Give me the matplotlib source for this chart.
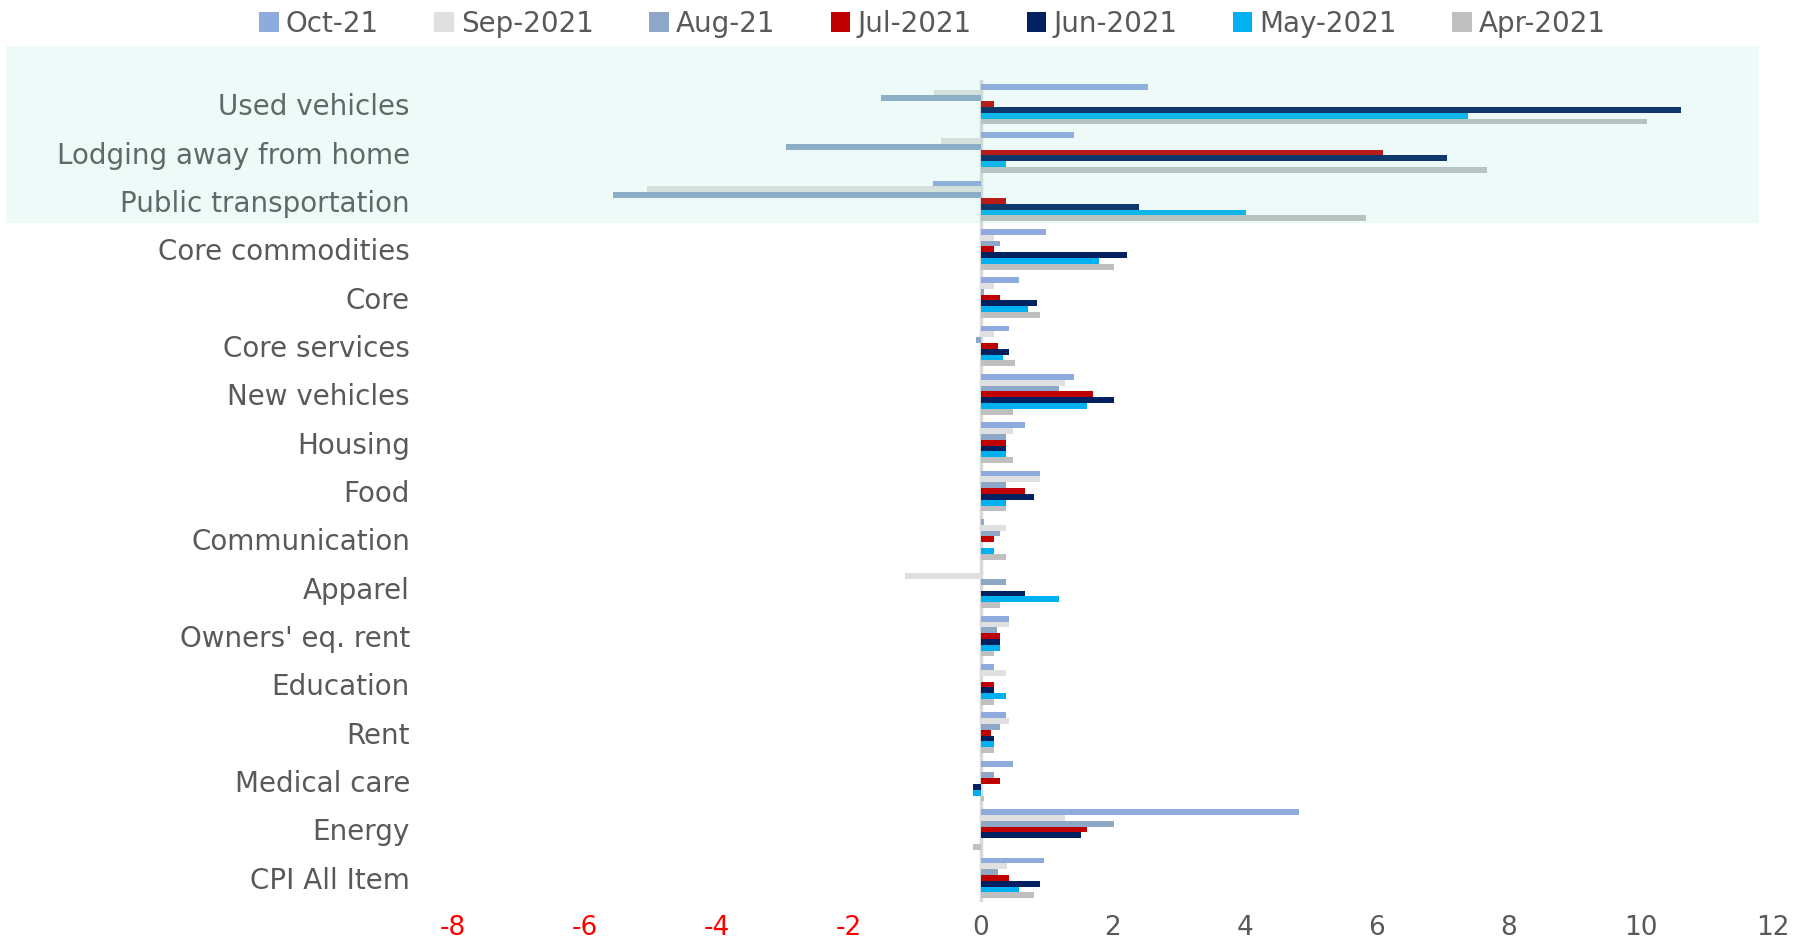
import matplotlib.pyplot as plt
import numpy as np
from matplotlib.patches import Patch, Rectangle

# CPI components, monthly % change
categories = ['Used vehicles', 'Lodging away from home', 'Public transportation',
              'Core commodities', 'Core', 'Core services', 'New vehicles', 'Housing',
              'Food', 'Communication', 'Apparel', "Owners' eq. rent", 'Education',
              'Rent', 'Medical care', 'Energy', 'CPI All Item']

oct21 = [2.53, 1.41, -0.72, 0.99, 0.57, 0.43, 1.41, 0.67, 0.90, 0.05, 0.00,
         0.43, 0.20, 0.38, 0.48, 4.82, 0.95]
sep21 = [-0.71, -0.61, -5.06, 0.20, 0.20, 0.20, 1.27, 0.48, 0.90, 0.38, -1.15,
         0.43, 0.38, 0.43, 0.00, 1.27, 0.39]
aug21 = [-1.51, -2.96, -5.57, 0.29, 0.05, -0.07, 1.18, 0.38, 0.38, 0.29, 0.38,
         0.24, 0.00, 0.29, 0.20, 2.02, 0.25]
jul21 = [0.20, 6.09, 0.38, 0.20, 0.29, 0.25, 1.69, 0.38, 0.67, 0.20, 0.00,
         0.29, 0.20, 0.15, 0.29, 1.60, 0.43]
jun21 = [10.60, 7.06, 2.39, 2.21, 0.85, 0.43, 2.02, 0.38, 0.81, 0.00, 0.66,
         0.29, 0.20, 0.20, -0.12, 1.51, 0.90]
may21 = [7.38, 0.38, 4.02, 1.79, 0.71, 0.34, 1.60, 0.38, 0.38, 0.20, 1.18,
         0.29, 0.38, 0.20, -0.12, 0.00, 0.57]
apr21 = [10.09, 7.67, 5.84, 2.02, 0.90, 0.52, 0.48, 0.48, 0.38, 0.38, 0.29,
         0.20, 0.20, 0.20, 0.05, -0.12, 0.81]

series = [oct21, sep21, aug21, jul21, jun21, may21, apr21]
labels = ['Oct-21', 'Sep-2021', 'Aug-21', 'Jul-2021', 'Jun-2021', 'May-2021', 'Apr-2021']
colors = ['#8FAADC', '#E0E0E0', '#8FA7C7', '#C00000', '#002060', '#00B0F0', '#BFBFBF']

xticks = list(range(-8, 13, 2))

W, H = 1797, 947
fig = plt.figure(figsize=(W / 100, H / 100), dpi=100)
ax = fig.add_axes([453 / W, 1 - 902 / H, (1773 - 453) / W, (902 - 80) / H])

y = np.arange(len(categories))
h = 0.12
for k, (vals, lab, col) in enumerate(zip(series, labels, colors)):
    ax.barh(y + (k - 3) * h, vals, height=h, color=col, label=lab, zorder=2)

ax.axvline(0, color='#D9D9D9', lw=2.5, zorder=1)

ax.set_xlim(-8, 12)
ax.set_ylim(len(categories) - 0.5, -0.5)
ax.set_yticks(y)
ax.set_yticklabels(categories, fontsize=20, color='#595959')
ax.set_xticks(xticks)
ax.set_xticklabels([str(t) for t in xticks], fontsize=19)
for t, lbl in zip(xticks, ax.get_xticklabels()):
    lbl.set_color('#FF0000' if t < 0 else '#595959')
ax.tick_params(axis='y', length=0, pad=31)
ax.tick_params(axis='x', length=0, pad=9)
for s in ax.spines.values():
    s.set_visible(False)

# highlighted block over the top three categories
rect = Rectangle((6 / W, 1 - 223 / H), (1759 - 6) / W, (223 - 46) / H,
                 transform=fig.transFigure, facecolor='#7FE0C8', alpha=0.13,
                 edgecolor='none', zorder=10)
fig.add_artist(rect)

handles = [Patch(facecolor=c, edgecolor='none') for c in colors]
leg = fig.legend(handles, labels, loc='center', bbox_to_anchor=(0.519, 0.975),
                 ncol=7, frameon=False, fontsize=20, handlelength=0.7,
                 handleheight=0.7, handletextpad=0.25, columnspacing=2.0)
for txt in leg.get_texts():
    txt.set_color('#595959')

fig.savefig('out.png', dpi=100)
